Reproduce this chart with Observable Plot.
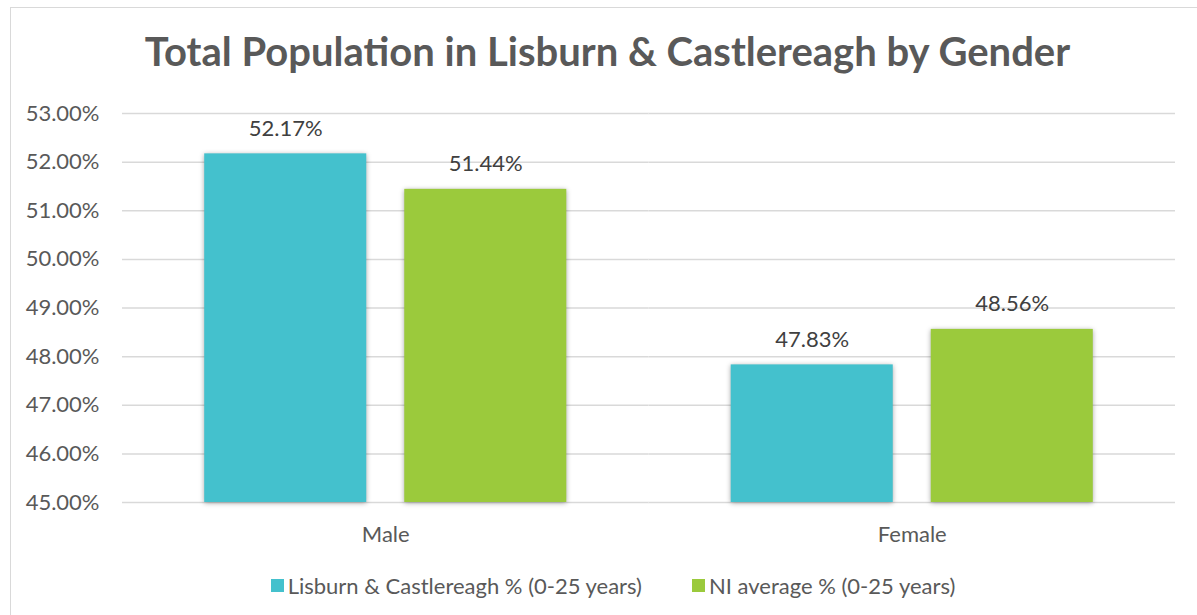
<!DOCTYPE html>
<html>
<head>
<meta charset="utf-8">
<script src="https://cdn.jsdelivr.net/npm/d3@7"></script>
<script src="https://cdn.jsdelivr.net/npm/@observablehq/plot@0.6"></script>
<style>
  html, body { margin: 0; padding: 0; background: #fff; }
  body { width: 1197px; height: 615px; overflow: hidden; position: relative; font-family: Lato, "Open Sans", sans-serif; color: #595959; }
  #frame { position: absolute; left: 10px; top: 7px; width: 1187px; height: 608px; border-left: 1.5px solid #d9d9d9; border-top: 1.5px solid #d9d9d9; box-sizing: border-box; }
  #title { height: 73px; box-sizing: border-box; padding-top: 23px; padding-left: 7px; text-align: center; font-weight: 700; font-size: 40px; line-height: 40px; color: #595959; white-space: nowrap; }
  #chart svg { display: block; }
  #chart svg g[aria-label="bar"] rect { filter: drop-shadow(0px 1px 2.5px rgba(0,0,0,0.35)); }
  #legend { display: flex; justify-content: center; align-items: center; padding-left: 18px; margin-top: 20px; font-size: 22px; color: #595959; }
  .item { display: flex; align-items: center; }
  .item + .item { margin-left: 50px; }
  .sw { width: 13px; height: 13px; margin-right: 4px; }
</style>
</head>
<body>
<div id="frame">
  <div id="title">Total Population in Lisburn &amp; Castlereagh by Gender</div>
  <div id="chart"></div>
  <div id="legend"></div>
</div>
<script>
const categories = ["Male", "Female"];
const seriesNames = ["Lisburn & Castlereagh % (0-25 years)", "NI average % (0-25 years)"];
const lisburnValues = [52.17, 47.83];
const niValues = [51.44, 48.56];
const yTicks = [45, 46, 47, 48, 49, 50, 51, 52, 53];
const colors = ["#44c1cd", "#9bca3c"];

const data = [];
categories.forEach((c, i) => {
  data.push({gender: c, series: seriesNames[0], value: lisburnValues[i]});
  data.push({gender: c, series: seriesNames[1], value: niValues[i]});
});

const yMin = yTicks[0], yMax = yTicks[yTicks.length - 1];

const chart = Plot.plot({
  width: 1186,
  height: 471,
  marginTop: 32,
  marginBottom: 50,
  marginLeft: 111,
  marginRight: 22,
  style: {fontFamily: "Lato, 'Open Sans', sans-serif", fontSize: "22px", color: "#595959", background: "transparent"},
  fx: {domain: categories, paddingInner: 0, paddingOuter: 0, round: false, label: null, tickSize: 0, tickPadding: 24, axis: "bottom"},
  x: {domain: seriesNames, paddingInner: 0.19, paddingOuter: 0.411, round: false, axis: null},
  y: {domain: [yMin, yMax], ticks: yTicks, tickFormat: d => d.toFixed(2) + "%", tickSize: 0, tickPadding: 23, label: null},
  color: {domain: seriesNames, range: colors},
  marks: [
    Plot.ruleY(yTicks, {stroke: "#d9d9d9", strokeWidth: 1.5}),
    Plot.barY(data, {fx: "gender", x: "series", y1: () => yMin, y2: "value", fill: "series"}),
    Plot.text(data, {fx: "gender", x: "series", y: "value", text: d => d.value.toFixed(2) + "%", lineAnchor: "middle", dy: -25, fill: "#404040", fontSize: 22})
  ]
});
document.getElementById("chart").appendChild(chart);

const legend = document.getElementById("legend");
seriesNames.forEach((s, i) => {
  const item = document.createElement("div");
  item.className = "item";
  const sw = document.createElement("div");
  sw.className = "sw";
  sw.style.background = colors[i];
  const label = document.createElement("span");
  label.textContent = s;
  item.appendChild(sw);
  item.appendChild(label);
  legend.appendChild(item);
});
</script>
</body>
</html>
